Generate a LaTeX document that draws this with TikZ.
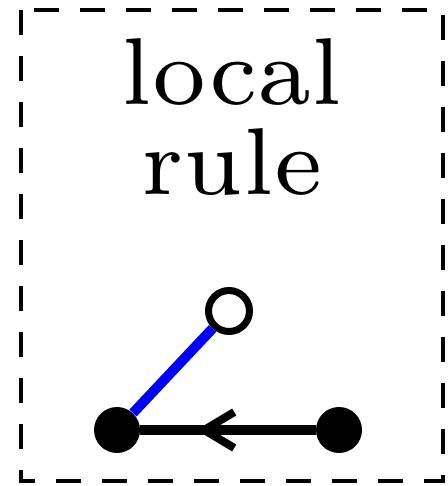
\documentclass[tikz,border=0pt]{standalone}
\usepackage{fontspec}
\newfontfamily\labelfont{lmroman7-regular.otf}
\usetikzlibrary{arrows.meta,decorations.markings}
\definecolor{RuleBlue}{RGB}{0,0,255}

\begin{document}
\begin{tikzpicture}[x=0.5pt,y=-0.5pt]
  \tikzset{
    frame/.style={draw,line width=2.2pt,dash pattern=on 12.5pt off 10.5pt},
    site/.style={circle,fill=black,inner sep=0pt,minimum size=23pt},
    open site/.style={circle,draw,line width=3.5pt,fill=white,inner sep=0pt,minimum size=20.5pt},
    bond/.style={line width=5pt},
    flow/.style={bond,postaction={decorate},decoration={markings,
      mark=at position 0.68 with {\arrow{Straight Barb[length=15pt,width=18pt,line width=4pt]}}}}
  }
  \useasboundingbox (0,0) rectangle (448,486);
  \draw[frame] (21,10) rectangle (443,481);
  % title
  \node[font=\labelfont\fontsize{47.5}{44.5}\selectfont,align=center,anchor=base] (title) at (232,194) {local\\rule};
  % sites
  \node[open site] (top) at (229,311) {};
  \node[site] (left) at (117,430) {};
  \node[site] (right) at (339,430) {};
  \draw[bond,RuleBlue] (left) -- (top);
  \draw[flow] (right) -- (left);
\end{tikzpicture}
\end{document}
